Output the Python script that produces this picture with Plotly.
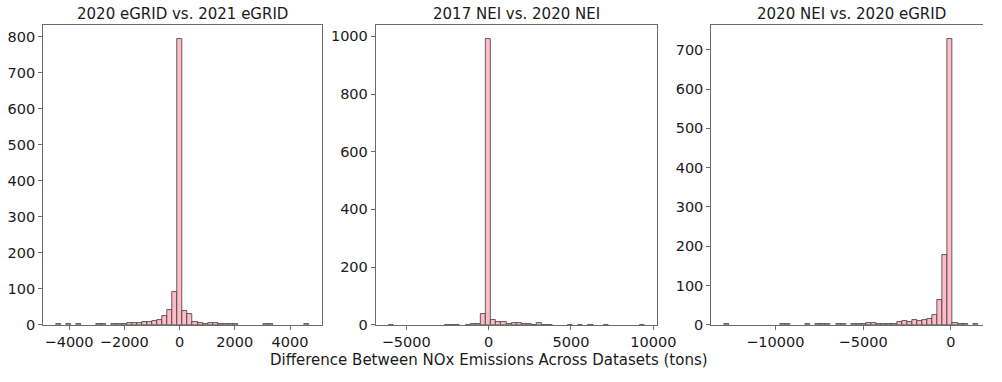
import numpy as np
import plotly.graph_objects as go

# ---- data: 50-bin histograms of NOx emission differences (tons) ----
titles = ["2020 eGRID vs. 2021 eGRID", "2017 NEI vs. 2020 NEI", "2020 NEI vs. 2020 eGRID"]

# data extent (min, max) of each comparison; bins span this range evenly
egrid_range = (-4479, 4692)
nei_range = (-6069, 9462)
nei_egrid_range = (-12922, 1547)

egrid_counts = [1, 0, 1, 0, 1, 0, 0, 0, 1, 1,
                0, 1, 2, 2, 4, 5, 6, 8, 9, 11,
                14, 25, 41, 91, 793, 38, 29, 7, 6, 3,
                4, 4, 1, 2, 1, 1, 0, 0, 0, 0,
                0, 1, 1, 0, 0, 0, 0, 0, 0, 1]

nei_counts = [1, 0, 0, 0, 0, 0, 0, 0, 0, 0,
              0, 1, 1, 1, 0, 1, 2, 3, 37, 990,
              18, 9, 8, 4, 7, 7, 4, 3, 1, 5,
              1, 1, 0, 0, 0, 1, 0, 1, 0, 1,
              0, 0, 1, 0, 0, 0, 0, 0, 0, 1]

nei_egrid_counts = [1, 0, 0, 0, 0, 0, 0, 0, 0, 0,
                    0, 1, 1, 0, 0, 0, 1, 0, 1, 1,
                    1, 0, 1, 1, 0, 2, 3, 1, 5, 4,
                    2, 2, 2, 3, 7, 10, 8, 12, 10, 13,
                    15, 25, 62, 177, 727, 4, 3, 1, 0, 1]

x_tickvals = [[-4000, -2000, 0, 2000, 4000], [-5000, 0, 5000, 10000], [-10000, -5000, 0]]
y_dticks = [100, 200, 100]

xlabel = "Difference Between NOx Emissions Across Datasets (tons)"

# ---- layout geometry (paper fractions) ----
W, H = 1002, 382
x_domains = [(44 / W, 328 / W), (383 / W, 670 / W), (725 / W, 1.0)]
visible_frac = [1.0, 1.0, (W - 725) / 285]   # last panel runs past the page edge
y_domain = (1 - 331.7 / H, 1 - 25.5 / H)

FONT = "DejaVu Sans"
TXT = "#1a1a1a"
LINE = "#6b6b6b"


def minus(v):
    return f"\u2212{abs(v)}" if v < 0 else str(v)


fig = go.Figure()
panels = [(egrid_range, egrid_counts), (nei_range, nei_counts), (nei_egrid_range, nei_egrid_counts)]

for i, ((lo, hi), counts) in enumerate(panels):
    edges = np.linspace(lo, hi, len(counts) + 1)
    centers = (edges[:-1] + edges[1:]) / 2
    width = edges[1] - edges[0]
    sfx = "" if i == 0 else str(i + 1)
    # empty bins are left out so no outline is drawn for them
    heights = [c if c > 0 else None for c in counts]
    fig.add_trace(go.Bar(
        x=centers, y=heights, width=width,
        marker=dict(color="#FFBCC6", line=dict(color="#3a3a3a", width=0.8)),
        xaxis="x" + sfx, yaxis="y" + sfx, showlegend=False,
    ))

    span = hi - lo
    r0 = lo - 0.05 * span
    r1_full = hi + 0.05 * span
    r1 = r0 + (r1_full - r0) * visible_frac[i]
    ymax = max(counts) * 1.05

    fig.update_layout(**{
        "xaxis" + sfx: dict(
            domain=list(x_domains[i]), anchor="y" + sfx, range=[r0, r1],
            tickvals=x_tickvals[i], ticktext=[minus(v) for v in x_tickvals[i]],
            showline=True, linecolor=LINE, linewidth=1, mirror=True,
            ticks="outside", ticklen=4, tickcolor=LINE, tickwidth=1,
            showgrid=False, zeroline=False,
            tickfont=dict(family=FONT, size=14.5, color=TXT),
        ),
        "yaxis" + sfx: dict(
            domain=list(y_domain), anchor="x" + sfx, range=[0, ymax],
            dtick=y_dticks[i], tick0=0,
            showline=True, linecolor=LINE, linewidth=1, mirror=(i < 2),
            ticks="outside", ticklen=4, tickcolor=LINE, tickwidth=1,
            showgrid=False, zeroline=False,
            tickfont=dict(family=FONT, size=14.5, color=TXT),
        ),
    })

    full_right = x_domains[i][0] + (285 / W if i == 2 else x_domains[i][1] - x_domains[i][0])
    fig.add_annotation(
        x=(x_domains[i][0] + full_right) / 2, y=1 - 14 / H,
        xref="paper", yref="paper", text=titles[i], showarrow=False,
        xanchor="center", yanchor="middle",
        font=dict(family=FONT, size=15, color=TXT),
    )

fig.add_annotation(
    x=498 / W, y=1 - 368 / H, xref="paper", yref="paper", text=xlabel,
    showarrow=False, xanchor="center", yanchor="middle",
    font=dict(family=FONT, size=15, color=TXT),
)

fig.update_layout(
    width=W, height=H, margin=dict(l=0, r=0, t=0, b=0),
    paper_bgcolor="white", plot_bgcolor="white", bargap=0,
)

fig.write_html("out.html")
